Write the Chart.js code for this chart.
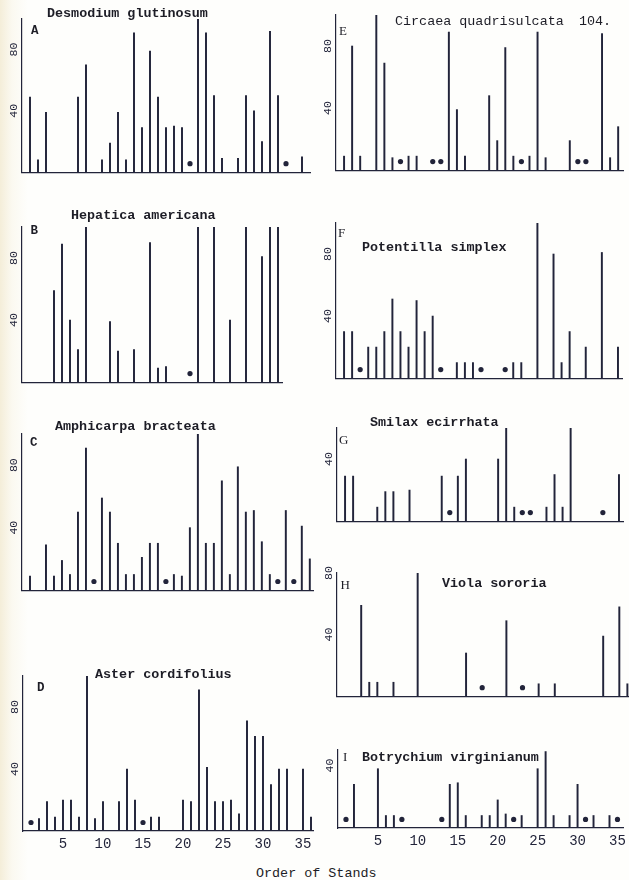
<!DOCTYPE html>
<html>
<head>
<meta charset="utf-8">
<title>Frequency of species in the ordered stands</title>
<script src="https://cdn.jsdelivr.net/npm/chart.js@4.4.1/dist/chart.umd.min.js"></script>
<style>
  html, body { margin: 0; padding: 0; }
  body { width: 629px; height: 880px; overflow: hidden; background: #fefefc; }
  #page {
    position: relative; width: 629px; height: 880px; overflow: hidden;
    background: linear-gradient(to right, rgba(236,224,188,0.55) 0px, rgba(242,234,206,0.25) 12px, rgba(255,255,255,0) 28px);
  }
  #page canvas { position: absolute; }
  .txt {
    position: absolute; font-family: 'Liberation Mono', 'DejaVu Sans Mono', monospace;
    color: #1d1d26; line-height: 1; white-space: pre; transform: translateY(-50%);
  }
  .title { font-size: 13.4px; font-weight: bold; }
  .plain { font-size: 13.4px; }
  .letter { font-size: 12.5px; font-weight: bold; }
  .letter2 { font-size: 13px; font-family: 'Liberation Serif', serif; }
</style>
</head>
<body>
<div id="page"></div>
<script>
// Order of stands along the gradient
const STANDS = [1, 2, 3, 4, 5, 6, 7, 8, 9, 10, 11, 12, 13, 14, 15, 16, 17, 18,
                19, 20, 21, 22, 23, 24, 25, 26, 27, 28, 29, 30, 31, 32, 33, 34, 35, 36];

// Frequency (%) of each species per stand; 0 = not recorded in quadrats
const desmodium  = [49, 8, 39, 0, 0, 0, 49, 70, 0, 8, 19, 39, 8, 91, 29, 79, 49, 29,
                    30, 29, 0, 100, 91, 50, 9, 0, 9, 50, 40, 20, 92, 50, 0, 0, 10, 0];
const hepatica   = [0, 0, 0, 59, 89, 40, 21, 100, 0, 0, 39, 20, 0, 21, 0, 90, 9, 10,
                    0, 0, 0, 100, 0, 100, 0, 40, 0, 100, 0, 81, 100, 100, 0, 0, 0, 0];
const amphicarpa = [9, 0, 29, 9, 19, 10, 50, 91, 0, 59, 50, 30, 10, 10, 21, 30, 30, 0,
                    10, 9, 40, 100, 30, 30, 70, 10, 79, 50, 51, 31, 10, 0, 51, 0, 41, 20];
const aster      = [0, 8, 19, 9, 20, 20, 9, 100, 8, 19, 0, 19, 40, 20, 0, 9, 9, 0,
                    0, 20, 19, 91, 41, 19, 19, 20, 11, 71, 61, 61, 30, 40, 40, 0, 40, 9];
const circaea    = [9, 80, 9, 0, 100, 69, 8, 0, 9, 9, 0, 0, 0, 89, 39, 9, 0, 0,
                    48, 19, 79, 9, 0, 9, 89, 8, 0, 0, 19, 0, 0, 0, 88, 8, 28, 0];
const potentilla = [30, 30, 0, 20, 20, 30, 51, 30, 20, 50, 30, 40, 0, 0, 10, 10, 10, 0,
                    0, 0, 0, 10, 10, 0, 100, 0, 80, 10, 30, 0, 20, 0, 81, 0, 20, 0];
const smilax     = [29, 29, 0, 0, 9, 19, 19, 0, 20, 0, 0, 0, 29, 0, 29, 40, 0, 0,
                    0, 40, 60, 9, 0, 0, 0, 9, 30, 9, 60, 0, 0, 0, 0, 0, 30, 0];
const viola      = [0, 0, 59, 9, 9, 0, 9, 0, 0, 80, 0, 0, 0, 0, 0, 28, 0, 0,
                    0, 0, 49, 0, 0, 0, 8, 0, 8, 0, 0, 0, 0, 0, 39, 0, 58, 8];
const botrychium = [0, 28, 0, 0, 38, 8, 8, 0, 0, 0, 0, 0, 0, 28, 29, 8, 0, 8,
                    8, 18, 9, 0, 8, 0, 38, 49, 8, 0, 8, 28, 0, 8, 0, 8, 0, 0];

// Stands where the species was present outside the quadrats (dots)
const desmodiumDots  = [21, 33];
const hepaticaDots   = [21];
const amphicarpaDots = [9, 18, 32, 34];
const asterDots      = [1, 15];
const circaeaDots    = [8, 12, 13, 23, 30, 31];
const potentillaDots = [3, 13, 18, 21];
const smilaxDots     = [14, 23, 24, 33];
const violaDots      = [18, 23];
const botrychiumDots = [1, 8, 13, 22, 31, 35];

// Axis tick labels
const X_TICKS = [5, 10, 15, 20, 25, 30, 35];
const Y_TICKS_FULL = [40, 80];
const Y_TICKS_LOW = [40];

const INK = '#22243a';
const FONT = "'Liberation Mono', 'DejaVu Sans Mono', monospace";
const DOT_LEVEL = 5.5;

Chart.defaults.font.family = FONT;
Chart.defaults.color = INK;

const page = document.getElementById('page');

// Panel frames: plot rectangle (y axis x, top of value axis, baseline, right end of x axis)
const panels = [
  { letter: 'A', name: 'Desmodium glutinosum', values: desmodium, dots: desmodiumDots,
    yMax: 100, yTicks: Y_TICKS_FULL, axisX: 22, top: 19, base: 176, right: 310, xMax: 36 },
  { letter: 'B', name: 'Hepatica americana', values: hepatica, dots: hepaticaDots,
    yMax: 100, yTicks: Y_TICKS_FULL, axisX: 22, top: 227, base: 386, right: 282, xMax: 32.5 },
  { letter: 'C', name: 'Amphicarpa bracteata', values: amphicarpa, dots: amphicarpaDots,
    yMax: 100, yTicks: Y_TICKS_FULL, axisX: 22, top: 434, base: 594, right: 313, xMax: 36.4 },
  { letter: 'D', name: 'Aster cordifolius', values: aster, dots: asterDots,
    yMax: 100, yTicks: Y_TICKS_FULL, axisX: 23, top: 676, base: 831, right: 313, xMax: 36.25, xLabels: true },
  { letter: 'E', name: 'Circaea quadrisulcata', values: circaea, dots: circaeaDots,
    yMax: 100, yTicks: Y_TICKS_FULL, axisX: 336, top: 15, base: 174, right: 623, xMax: 35.6 },
  { letter: 'F', name: 'Potentilla simplex', values: potentilla, dots: potentillaDots,
    yMax: 100, yTicks: Y_TICKS_FULL, axisX: 336, top: 223, base: 382, right: 622, xMax: 35.5 },
  { letter: 'G', name: 'Smilax ecirrhata', values: smilax, dots: smilaxDots,
    yMax: 60, yTicks: Y_TICKS_LOW, axisX: 337, top: 428, base: 525, right: 623, xMax: 35.5 },
  { letter: 'H', name: 'Viola sororia', values: viola, dots: violaDots,
    yMax: 80, yTicks: Y_TICKS_FULL, axisX: 337, top: 573, base: 700, right: 629, xMax: 36.2 },
  { letter: 'I', name: 'Botrychium virginianum', values: botrychium, dots: botrychiumDots,
    yMax: 50, yTicks: Y_TICKS_LOW, axisX: 338, top: 750, base: 828, right: 625, xMax: 35.7, xLabels: true }
];

function makePanel(p) {
  const YW = 20, PT = 10, PR = 6, PB = 4;
  const XH = p.xLabels ? 24 : 0;
  const w = YW + (p.right - p.axisX) + PR;
  const h = PT + (p.base - p.top) + XH + PB;
  const cv = document.createElement('canvas');
  cv.width = w; cv.height = h;
  cv.style.width = w + 'px'; cv.style.height = h + 'px';
  cv.style.left = (p.axisX - YW) + 'px';
  cv.style.top = (p.top - PT) + 'px';
  page.appendChild(cv);

  const bars = STANDS.map((s, i) => ({ x: s, y: p.values[i] })).filter(d => d.y > 0);
  const marks = p.dots.map(s => ({ x: s, y: DOT_LEVEL }));

  new Chart(cv, {
    type: 'bar',
    data: {
      datasets: [
        { type: 'bar', data: bars, backgroundColor: INK, borderWidth: 0,
          barThickness: 1.3, grouped: false },
        { type: 'scatter', data: marks, pointRadius: 2.6, pointBackgroundColor: INK,
          pointBorderWidth: 0, showLine: false }
      ]
    },
    options: {
      responsive: false,
      animation: false,
      events: [],
      layout: { padding: { top: PT, right: PR, bottom: PB, left: 0 } },
      plugins: { legend: { display: false }, tooltip: { enabled: false }, title: { display: false } },
      scales: {
        x: {
          type: 'linear', min: 0, max: p.xMax, offset: false,
          grid: { display: false, drawTicks: false },
          border: { display: true, color: INK, width: 1.2 },
          ticks: { display: !!p.xLabels, padding: 5, maxRotation: 0, autoSkip: false,
                   font: { size: 14, family: FONT }, color: INK },
          afterBuildTicks: s => { s.ticks = X_TICKS.map(v => ({ value: v })); },
          afterFit: s => { s.height = XH; }
        },
        y: {
          min: 0, max: p.yMax,
          grid: { display: false, drawTicks: false },
          border: { display: true, color: INK, width: 1.2 },
          ticks: { minRotation: 90, maxRotation: 90, crossAlign: 'center', padding: 1,
                   font: { size: 11.5, family: FONT }, color: INK },
          afterBuildTicks: s => { s.ticks = p.yTicks.map(v => ({ value: v })); },
          afterFit: s => { s.width = YW; }
        }
      }
    }
  });
}

panels.forEach(makePanel);

// Species names, panel letters and captions
function addText(str, cls, x, y) {
  const d = document.createElement('div');
  d.className = 'txt ' + cls;
  d.textContent = str;
  d.style.left = x + 'px';
  d.style.top = y + 'px';
  page.appendChild(d);
}

addText('Desmodium glutinosum', 'title', 47, 13.5);
addText('A', 'letter', 31, 31);
addText('Hepatica americana', 'title', 71, 216);
addText('B', 'letter', 30.5, 231);
addText('Amphicarpa bracteata', 'title', 55, 427);
addText('C', 'letter', 30, 442.5);
addText('Aster cordifolius', 'title', 95, 675);
addText('D', 'letter', 37, 688);
addText('Circaea quadrisulcata', 'plain', 395, 22);
addText('104.', 'plain', 579, 22);
addText('E', 'letter2', 339, 30);
addText('Potentilla simplex', 'title', 362, 248);
addText('F', 'letter2', 338, 232);
addText('Smilax ecirrhata', 'title', 370, 422.5);
addText('G', 'letter2', 339, 439);
addText('Viola sororia', 'title', 442, 583.5);
addText('H', 'letter2', 340.5, 583.5);
addText('I', 'letter2', 343, 756);
addText('Botrychium virginianum', 'title', 362, 757.5);
addText('Order of Stands', 'plain', 256, 873.5);
</script>
</body>
</html>
